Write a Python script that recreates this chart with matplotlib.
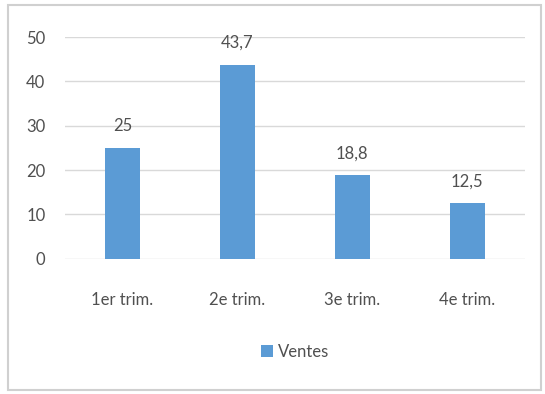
import matplotlib
matplotlib.use("Agg")
import matplotlib.pyplot as plt
from matplotlib.patches import Rectangle

categories = ["1er trim.", "2e trim.", "3e trim.", "4e trim."]
ventes = [25, 43.7, 18.8, 12.5]
value_labels = ["25", "43,7", "18,8", "12,5"]
yticks = [0, 10, 20, 30, 40, 50]

BAR = "#5B9BD5"
TEXT = "#505050"
GRID = "#D9D9D9"

plt.rcParams["font.family"] = ["Lato", "DejaVu Sans"]

fig = plt.figure(figsize=(5.45, 3.94), dpi=100)
ax = fig.add_axes([0.119, 0.343, 0.844, 0.563])

# outer chart frame
fig.patches.append(Rectangle((0.015, 0.01), 0.978, 0.978, transform=fig.transFigure,
                             fill=False, edgecolor="#D0D0D0", linewidth=1.5))

x = range(len(categories))
bars = ax.bar(x, ventes, width=0.31, color=BAR, label="Ventes", zorder=3)
for b, lab in zip(bars, value_labels):
    ax.text(b.get_x() + b.get_width() / 2, b.get_height() + 3.2, lab,
            ha="center", va="bottom", fontsize=12, color=TEXT)

ax.set_xlim(-0.5, len(categories) - 0.5)
ax.set_ylim(0, 50)
ax.set_yticks(yticks)
ax.set_yticklabels([str(v) for v in yticks], fontsize=12, color=TEXT)
ax.set_xticks(list(x))
ax.set_xticklabels(categories, fontsize=12, color=TEXT)
ax.tick_params(axis="both", length=0)
ax.tick_params(axis="x", pad=24)
ax.tick_params(axis="y", pad=14)
ax.grid(axis="y", color=GRID, linewidth=1, zorder=0)
for s in ax.spines.values():
    s.set_visible(False)

ax.legend(loc="center", bbox_to_anchor=(0.5, -0.42), frameon=False, fontsize=12,
          labelcolor=TEXT, handlelength=0.7, handleheight=0.7, handletextpad=0.3)

fig.savefig("out.png", dpi=100)
